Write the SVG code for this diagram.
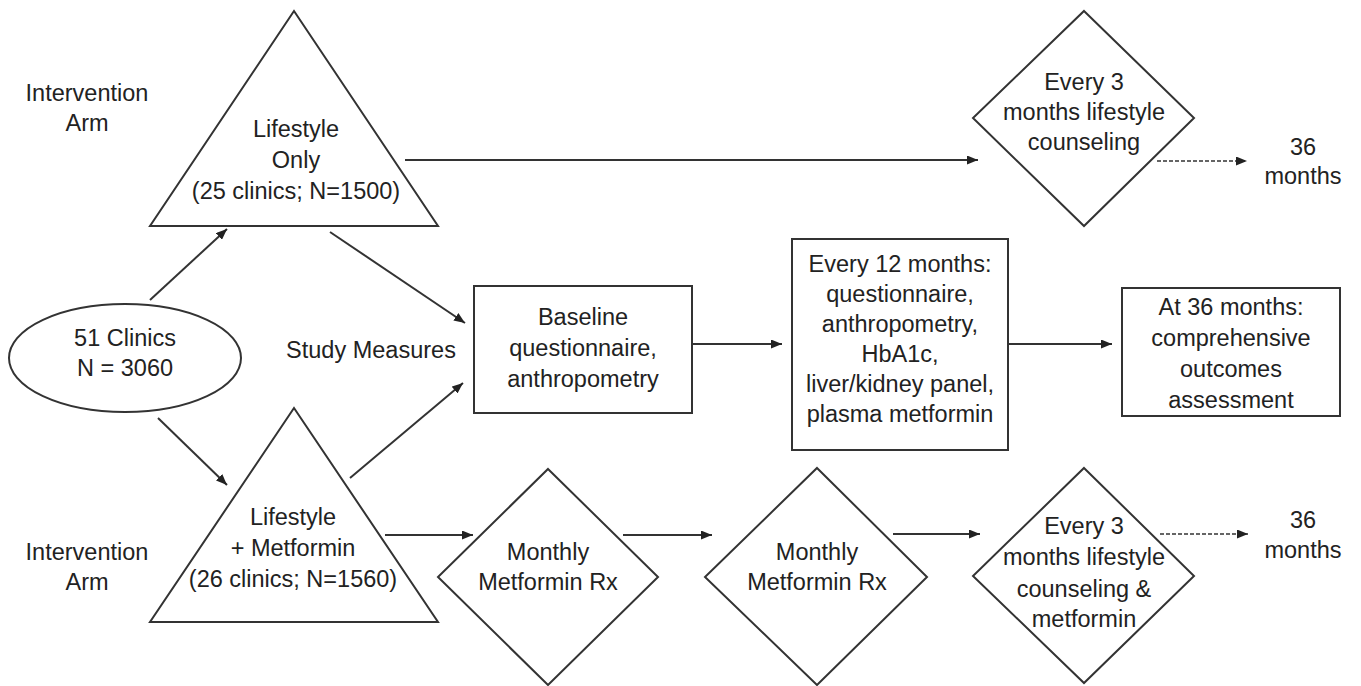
<svg xmlns="http://www.w3.org/2000/svg" width="1361" height="686" viewBox="0 0 1361 686">
<defs>
<marker id="ah" viewBox="0 0 11 9" refX="11" refY="4.5" markerWidth="11" markerHeight="9" markerUnits="userSpaceOnUse" orient="auto">
<path d="M0,0 L11,4.5 L0,9 Z" fill="#222"/>
</marker>
<style>
.s{fill:#fff;stroke:#333;stroke-width:2}
.c{fill:none;stroke:#333;stroke-width:2;marker-end:url(#ah)}
.d{fill:none;stroke:#333;stroke-width:1.6;stroke-dasharray:4 2;marker-end:url(#ah)}
text{font-family:"Liberation Sans",Arial,sans-serif;font-size:23.5px;fill:#222;text-anchor:middle}
</style>
</defs>
<rect width="1361" height="686" fill="#fff"/>
<g id="connectors">
<line class="c" x1="150" y1="300" x2="227" y2="229"/>
<line class="c" x1="158" y1="418" x2="227" y2="485"/>
<line class="c" x1="330" y1="232" x2="465" y2="323"/>
<line class="c" x1="350" y1="478" x2="463" y2="383"/>
<line class="c" x1="405" y1="160" x2="978" y2="160"/>
<line class="d" x1="1157" y1="161" x2="1247" y2="161"/>
<line class="c" x1="692" y1="344" x2="782" y2="344"/>
<line class="c" x1="1008" y1="344" x2="1112" y2="344"/>
<line class="c" x1="385" y1="535" x2="473" y2="535"/>
<line class="c" x1="623" y1="535" x2="712" y2="535"/>
<line class="c" x1="893" y1="534" x2="980" y2="534"/>
<line class="d" x1="1160" y1="534" x2="1248" y2="534"/>
</g>
<g id="label-arm-top">
<text x="87" y="101">Intervention</text>
<text x="87" y="131">Arm</text>
</g>
<g id="label-arm-bottom">
<text x="87" y="560">Intervention</text>
<text x="87" y="590">Arm</text>
</g>
<g id="label-study">
<text x="371" y="358">Study Measures</text>
</g>
<g id="clinics">
<ellipse class="s" cx="125" cy="358" rx="116" ry="54"/>
<text x="125" y="346">51 Clinics</text>
<text x="125" y="376">N = 3060</text>
</g>
<g id="lifestyle-only">
<polygon class="s" points="294,11 438,226 150,226"/>
<text x="296" y="137">Lifestyle</text>
<text x="296" y="168">Only</text>
<text x="296" y="199">(25 clinics; N=1500)</text>
</g>
<g id="lifestyle-metformin">
<polygon class="s" points="294,408 438,622 150,622"/>
<text x="293" y="525">Lifestyle</text>
<text x="293" y="556">+ Metformin</text>
<text x="293" y="587">(26 clinics; N=1560)</text>
</g>
<g id="baseline">
<rect class="s" x="474" y="286" width="218" height="127"/>
<text x="583" y="325">Baseline</text>
<text x="583" y="356">questionnaire,</text>
<text x="583" y="387">anthropometry</text>
</g>
<g id="every12">
<rect class="s" x="792" y="239" width="216" height="211"/>
<text x="900" y="272">Every 12 months:</text>
<text x="900" y="302">questionnaire,</text>
<text x="900" y="332">anthropometry,</text>
<text x="900" y="362">HbA1c,</text>
<text x="900" y="392">liver/kidney panel,</text>
<text x="900" y="422">plasma metformin</text>
</g>
<g id="at36">
<rect class="s" x="1122" y="288" width="218" height="128"/>
<text x="1231" y="315">At 36 months:</text>
<text x="1231" y="346">comprehensive</text>
<text x="1231" y="377">outcomes</text>
<text x="1231" y="408">assessment</text>
</g>
<g id="every3-top">
<polygon class="s" points="1084,11 1194,118 1084,226 973,118"/>
<text x="1084" y="90">Every 3</text>
<text x="1084" y="120">months lifestyle</text>
<text x="1084" y="150">counseling</text>
</g>
<g id="end-top">
<text x="1303" y="155">36</text>
<text x="1303" y="184">months</text>
</g>
<g id="monthly1">
<polygon class="s" points="548,469 658,577 548,685 438,577"/>
<text x="548" y="560">Monthly</text>
<text x="548" y="590">Metformin Rx</text>
</g>
<g id="monthly2">
<polygon class="s" points="817,468 927,577 817,685 705,577"/>
<text x="817" y="560">Monthly</text>
<text x="817" y="590">Metformin Rx</text>
</g>
<g id="every3-bottom">
<polygon class="s" points="1084,468 1194,576 1084,683 973,576"/>
<text x="1084" y="534">Every 3</text>
<text x="1084" y="565">months lifestyle</text>
<text x="1084" y="597">counseling &amp;</text>
<text x="1084" y="627">metformin</text>
</g>
<g id="end-bottom">
<text x="1303" y="528">36</text>
<text x="1303" y="558">months</text>
</g>
</svg>
